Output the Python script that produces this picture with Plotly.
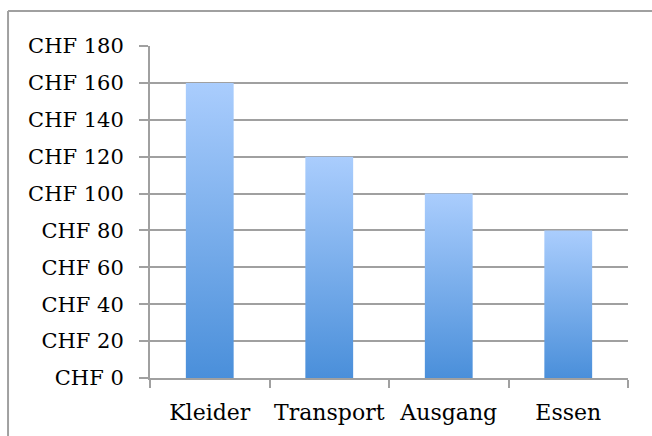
import plotly.graph_objects as go

categories = ["Kleider", "Transport", "Ausgang", "Essen"]
values = [160, 120, 100, 80]
y_ticks = [0, 20, 40, 60, 80, 100, 120, 140, 160, 180]
y_labels = [f"CHF {v}" for v in y_ticks]

bar_half = 0.2
fig = go.Figure()
for i, (c, v) in enumerate(zip(categories, values)):
    xs = [i - bar_half, i + bar_half, i + bar_half, i - bar_half, i - bar_half]
    ys = [0, 0, v, v, 0]
    fig.add_trace(go.Scatter(
        x=xs, y=ys, mode="lines", fill="toself", name=c,
        line=dict(width=0, color="rgba(0,0,0,0)"),
        fillgradient=dict(type="vertical",
                          colorscale=[[0, "#4a8fda"], [1, "#aacdfd"]]),
        hoverinfo="skip", showlegend=False,
    ))

grid = "#a0a0a0"
font = dict(family="DejaVu Serif", size=21, color="#000000")
fig.update_layout(
    width=652, height=436,
    margin=dict(l=150, r=24, t=46, b=58),
    paper_bgcolor="white", plot_bgcolor="white",
    showlegend=False,
    font=font,
    xaxis=dict(
        range=[-0.5, len(categories) - 0.5],
        tickmode="array", tickvals=list(range(len(categories))), ticktext=categories,
        tickfont=dict(family="DejaVu Serif", size=22, color="#000000"),
        ticks="", showgrid=False, zeroline=False,
        showline=True, linecolor=grid, linewidth=2,
        ticklabelstandoff=14, automargin=False,
        minor=dict(tickmode="linear", tick0=0.5, dtick=1, ticks="outside",
                   ticklen=8, tickwidth=2, tickcolor=grid, showgrid=False),
        fixedrange=True,
    ),
    yaxis=dict(
        range=[0, 180],
        tickmode="array", tickvals=y_ticks, ticktext=y_labels,
        tickfont=dict(family="DejaVu Serif", size=21, color="#000000"),
        ticks="outside", ticklen=9, tickwidth=2, tickcolor=grid,
        showgrid=True, gridcolor=grid, gridwidth=2,
        zeroline=False, showline=True, linecolor=grid, linewidth=2,
        ticklabelstandoff=11, automargin=False,
        fixedrange=True,
    ),
    shapes=[
        dict(type="line", xref="paper", yref="paper", x0=-0.297, x1=1.1,
             y0=1.1054, y1=1.1054, line=dict(color=grid, width=2)),
        dict(type="line", xref="paper", yref="paper", x0=-0.297, x1=-0.297,
             y0=1.1054, y1=-0.3, line=dict(color=grid, width=2)),
    ],
)

fig.write_html("out.html")
